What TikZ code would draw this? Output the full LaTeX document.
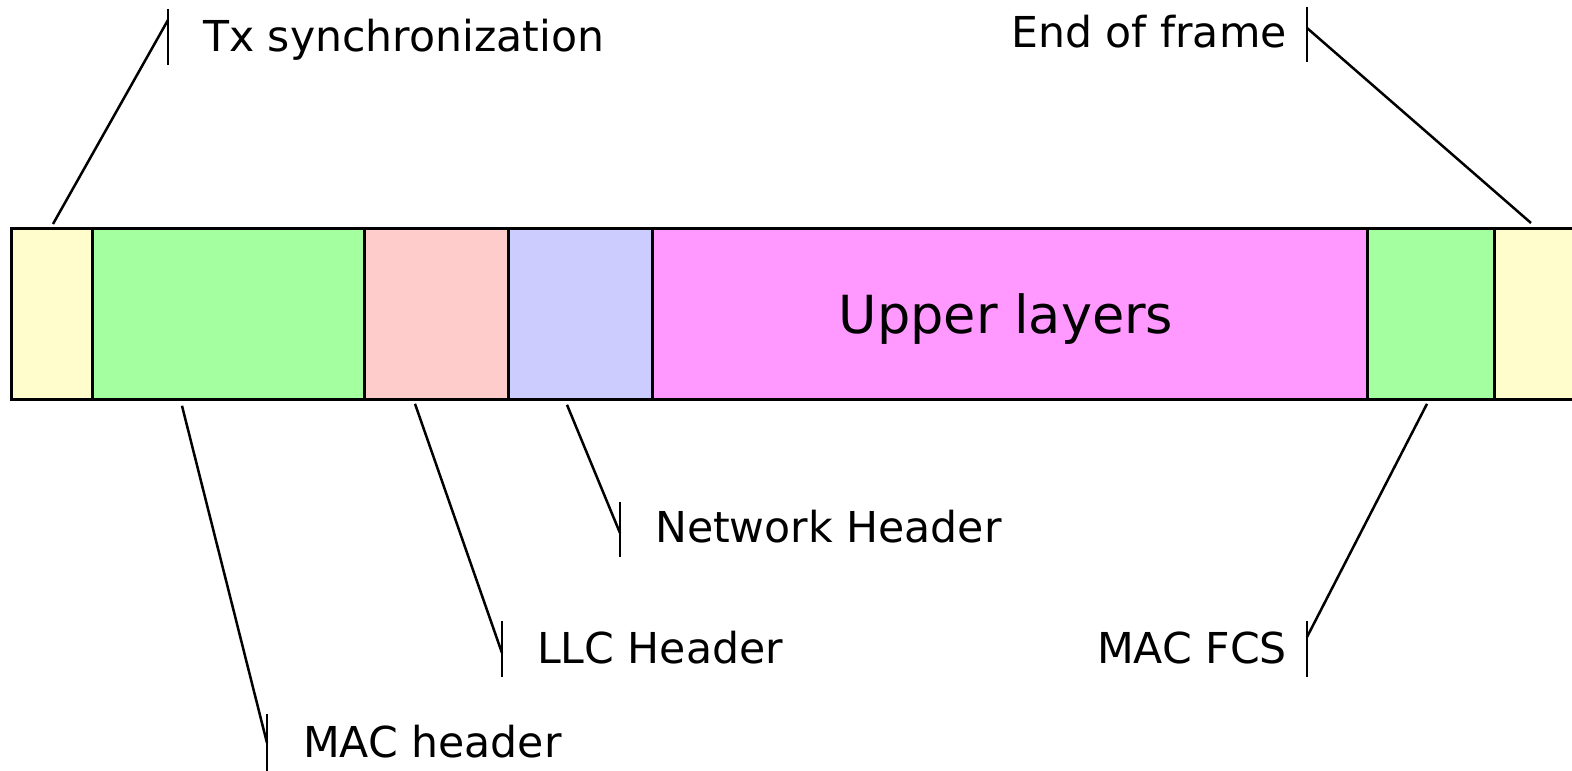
\documentclass[tikz,border=0pt]{standalone}
\usepackage{fontspec}
\setmainfont{DejaVu Sans}
\usetikzlibrary{calc}
\definecolor{syncyellow}{HTML}{FFFDCC}
\definecolor{macgreen}{HTML}{A4FFA0}
\definecolor{llcpink}{HTML}{FFCCCC}
\definecolor{netblue}{HTML}{CCCCFF}
\definecolor{upmagenta}{HTML}{FF99FF}
\tikzset{
  field/.style={draw=black, line width=2.8bp, anchor=north west, inner sep=0pt,
    minimum height=171bp, fill=#1},
  leader/.style={draw=black, line width=2.5bp},
  tick/.style={draw=black, line width=2.6bp},
  lbl/.style={inner sep=0pt, font=\fontsize{42.6bp}{48bp}\selectfont},
}
\begin{document}
\begin{tikzpicture}[x=1bp, y=-1bp]
\useasboundingbox (0,0) rectangle (1572,771);

% the frame, field by field
\node[field=syncyellow, minimum width=81bp]  (sync)   at (10,227)   {};
\node[field=macgreen,   minimum width=272bp] (machdr) at (91,227)   {};
\node[field=llcpink,    minimum width=144bp] (llc)    at (363,227)  {};
\node[field=netblue,    minimum width=144bp] (net)    at (507,227)  {};
\node[field=upmagenta,  minimum width=715bp] (upper)  at (651,227)  {};
\node[field=macgreen,   minimum width=127bp] (fcs)    at (1366,227) {};
\node[field=syncyellow, minimum width=120bp] (eof)    at (1493,227) {};
\node[inner sep=0pt, anchor=base, font=\fontsize{52.5bp}{58bp}\selectfont]
  (uptext) at (1006,333) {Upper layers};

% label texts
\node[lbl, anchor=base west] (txsync) at (203,52)  {Tx synchronization};
\node[lbl, anchor=base east] (eoftxt) at (1287,48) {End of frame};
\node[lbl, anchor=base west] (nettxt) at (655,542) {Network Header};
\node[lbl, anchor=base west] (llctxt) at (537,663) {LLC Header};
\node[lbl, anchor=base west] (mactxt) at (303,757) {MAC header};
\node[lbl, anchor=base east] (fcstxt) at (1287,663) {MAC FCS};

% tick marks beside the labels
\coordinate (txtop) at (168,9);    \coordinate (txbot) at (168,65);
\coordinate (eftop) at (1307,7);   \coordinate (efbot) at (1307,62);
\coordinate (nttop) at (620,502);  \coordinate (ntbot) at (620,557);
\coordinate (lltop) at (502,621);  \coordinate (llbot) at (502,677);
\coordinate (mctop) at (267,714);  \coordinate (mcbot) at (267,780);
\coordinate (fctop) at (1307,621); \coordinate (fcbot) at (1307,677);
\draw[tick] (txtop) -- (txbot);
\draw[tick] (eftop) -- (efbot);
\draw[tick] (nttop) -- (ntbot);
\draw[tick] (lltop) -- (llbot);
\draw[tick] (mctop) -- (mcbot);
\draw[tick] (fctop) -- (fcbot);

% leader lines from the fields to the ticks
\draw[leader] ($(sync.north west)+(43,-3)$)   -- ($(txtop)+(0,11)$);
\draw[leader] ($(eof.north west)+(38,-4)$)    -- ($(eftop)+(0,21)$);
\draw[leader] ($(net.south west)+(60,4)$)     -- ($(nttop)+(0,31)$);
\draw[leader] ($(llc.south west)+(52,3)$)     -- ($(lltop)+(0,32)$);
\draw[leader] ($(machdr.south west)+(91,5)$)  -- ($(mctop)+(0,29)$);
\draw[leader] ($(fcs.south west)+(61,3)$)     -- ($(fctop)+(0,16)$);
\end{tikzpicture}
\end{document}
